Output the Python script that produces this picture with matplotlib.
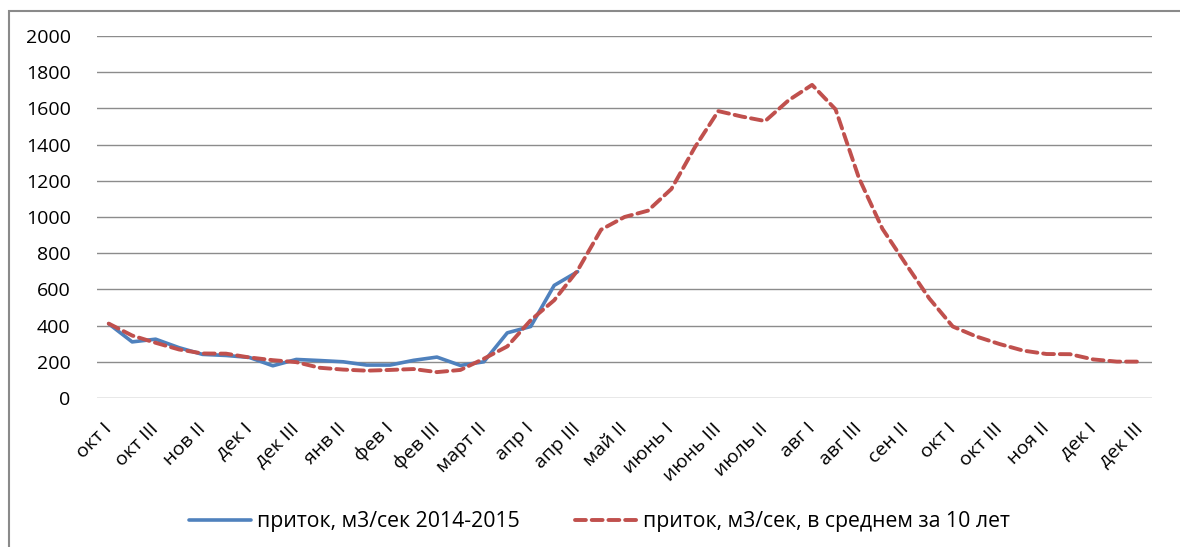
import numpy as np
import matplotlib
matplotlib.use('Agg')
import matplotlib.pyplot as plt
from matplotlib.patches import Rectangle

# декады: окт I ... дек III следующего года
months = ['окт', 'нов', 'дек', 'янв', 'фев', 'март', 'апр', 'май', 'июнь',
          'июль', 'авг', 'сен', 'окт', 'ноя', 'дек']
decades = ['I', 'II', 'III']
cats = [m + ' ' + d for m in months for d in decades]

# приток, м3/сек 2014-2015
inflow_2014 = [410, 310, 325, 278, 241, 235, 224, 178, 213, 207, 200,
               182, 182, 208, 226, 180, 200, 360, 395, 622, 698]

# приток, м3/сек, в среднем за 10 лет
inflow_avg = [411, 345, 305, 268, 246, 245, 224, 209, 198, 167, 157,
              151, 155, 160, 143, 155, 217, 285, 430, 540, 705, 930,
              1000, 1035, 1155, 1385, 1585, 1555, 1530, 1645, 1730, 1595,
              1215, 935, 740, 550, 395, 340, 298, 262, 243, 242, 213, 201, 201]

plt.rcParams['font.family'] = ['Open Sans', 'DejaVu Sans']

fig = plt.figure(figsize=(11.8, 5.47), dpi=100)
ax = fig.add_axes([0.0822, 0.2724, 0.8941, 0.6618])

x = np.arange(len(cats))
ax.plot(x[:len(inflow_2014)], inflow_2014, color='#4F81BD', lw=2.6,
        solid_capstyle='round', label='приток, м3/сек 2014-2015', zorder=3)
ax.plot(x, inflow_avg, color='#C0504D', lw=2.8, dashes=(2.8, 1.5),
        dash_capstyle='round', label='приток, м3/сек, в среднем за 10 лет', zorder=4)

ax.set_xlim(-0.5, len(cats) - 0.5)
ax.set_ylim(0, 2000)
ax.set_yticks(range(0, 2001, 200))
ax.grid(axis='y', color='#8c8c8c', lw=1)
ax.set_axisbelow(True)
for s in ax.spines.values():
    s.set_visible(False)

ax.set_xticks(x[::2], cats[::2])
ax.tick_params(axis='both', length=0, labelsize=14, colors='black')
ax.tick_params(axis='y', pad=19)
ax.tick_params(axis='x', pad=20)
for lab in ax.get_xticklabels():
    lab.set_rotation(45)
    lab.set_ha('right')
    lab.set_va('center')
    lab.set_rotation_mode('anchor')

fig.legend(loc='center', bbox_to_anchor=(0.508, 0.046), ncol=2, frameon=False,
           fontsize=15.3, handlelength=2.9, handletextpad=0.3, columnspacing=2.6)

fig.patches.append(Rectangle((9 / 1180, -0.1), 1.2, 1 - 11 / 547 + 0.1,
                             transform=fig.transFigure, fill=False,
                             edgecolor='#8a8a8a', lw=1.5))

fig.savefig('out.png', dpi=100)
